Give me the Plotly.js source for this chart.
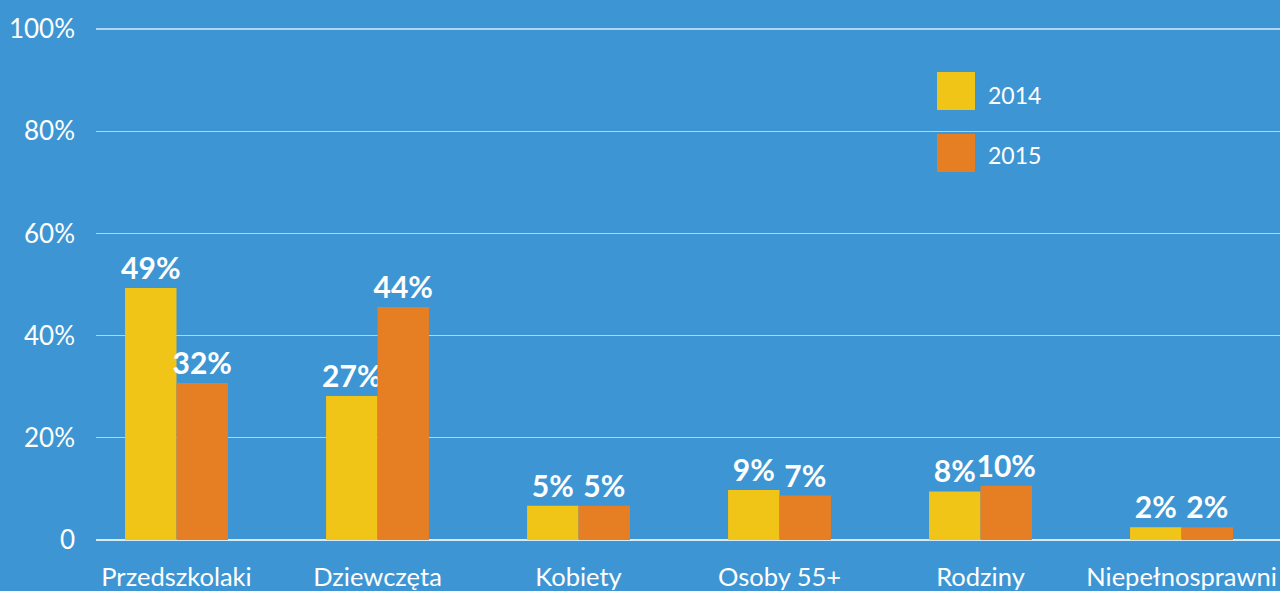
<!DOCTYPE html>
<html>
<head>
<meta charset="utf-8">
<script src="https://cdn.plot.ly/plotly-3.0.1.min.js"></script>
<style>html,body{margin:0;padding:0;background:#3d96d3;}#chart{width:1280px;height:591px;}</style>
</head>
<body>
<div id="chart"></div>
<script>
var categories = ["Przedszkolaki", "Dziewczęta", "Kobiety", "Osoby 55+", "Rodziny", "Niepełnosprawni"];
var seriesNames = ["2014", "2015"];
var values2014 = [49.3, 28.2, 6.7, 9.8, 9.5, 2.5];
var values2015 = [30.7, 45.6, 6.7, 8.7, 10.6, 2.5];
var labels2014 = ["49%", "27%", "5%", "9%", "8%", "2%"];
var labels2015 = ["32%", "44%", "5%", "7%", "10%", "2%"];
var yTickVals = [0, 20, 40, 60, 80, 100];
var yTickText = ["0", "20%", "40%", "60%", "80%", "100%"];

var colors = ["#f1c418", "#e67e23"];
var bg = "#3d96d3";
var labelFont = {family: "Lato, sans-serif", size: 30, color: "#ffffff", weight: 700};

var traces = [
  {type: "bar", name: seriesNames[0], x: categories, y: values2014, text: labels2014,
   textposition: "outside", texttemplate: "%{text}", textfont: labelFont, cliponaxis: false,
   constraintext: "none", marker: {color: colors[0]}, hoverinfo: "skip"},
  {type: "bar", name: seriesNames[1], x: categories, y: values2015, text: labels2015,
   textposition: "outside", texttemplate: "%{text}", textfont: labelFont, cliponaxis: false,
   constraintext: "none", marker: {color: colors[1]}, hoverinfo: "skip"}
];

var plotH = 513;
var layout = {
  width: 1280, height: 591,
  paper_bgcolor: bg, plot_bgcolor: bg,
  margin: {l: 96, r: 0, t: 591 - 51 - plotH, b: 51},
  barmode: "group", bargap: 0.488, bargroupgap: 0,
  showlegend: false,
  font: {family: "Lato, sans-serif", color: "#ffffff", size: 24},
  xaxis: {
    type: "category", range: [-0.4005, 5.49], showgrid: false, zeroline: false,
    showline: false, ticks: "", ticklabelstandoff: 19,
    tickfont: {family: "Lato, sans-serif", size: 25.5, color: "#ffffff"}, fixedrange: true
  },
  yaxis: {
    range: [0, plotH / 5.11], tickvals: yTickVals, ticktext: yTickText,
    showgrid: true, gridcolor: "rgba(255,255,255,0.6)", gridwidth: 1.3,
    zeroline: true, zerolinecolor: "rgba(255,255,255,0.8)", zerolinewidth: 1.5,
    showline: false, ticks: "", ticklabelstandoff: 20,
    tickfont: {family: "Lato, sans-serif", size: 26, color: "#ffffff"}, fixedrange: true
  },
  shapes: [
    {type: "rect", xref: "paper", yref: "paper", layer: "above", line: {width: 0},
     fillcolor: colors[0], x0: (937-96)/1184, x1: (975-96)/1184, y0: (540-110)/plotH, y1: (540-72)/plotH},
    {type: "rect", xref: "paper", yref: "paper", layer: "above", line: {width: 0},
     fillcolor: colors[1], x0: (937-96)/1184, x1: (975-96)/1184, y0: (540-172)/plotH, y1: (540-134)/plotH}
  ],
  annotations: [
    {xref: "paper", yref: "paper", x: (986-96)/1184, y: (540-95)/plotH, xanchor: "left", yanchor: "middle",
     text: seriesNames[0], showarrow: false, font: {family: "Lato, sans-serif", size: 23, color: "#ffffff"}},
    {xref: "paper", yref: "paper", x: (986-96)/1184, y: (540-155)/plotH, xanchor: "left", yanchor: "middle",
     text: seriesNames[1], showarrow: false, font: {family: "Lato, sans-serif", size: 23, color: "#ffffff"}}
  ]
};

Plotly.newPlot("chart", traces, layout, {displayModeBar: false, staticPlot: true});
</script>
</body>
</html>
